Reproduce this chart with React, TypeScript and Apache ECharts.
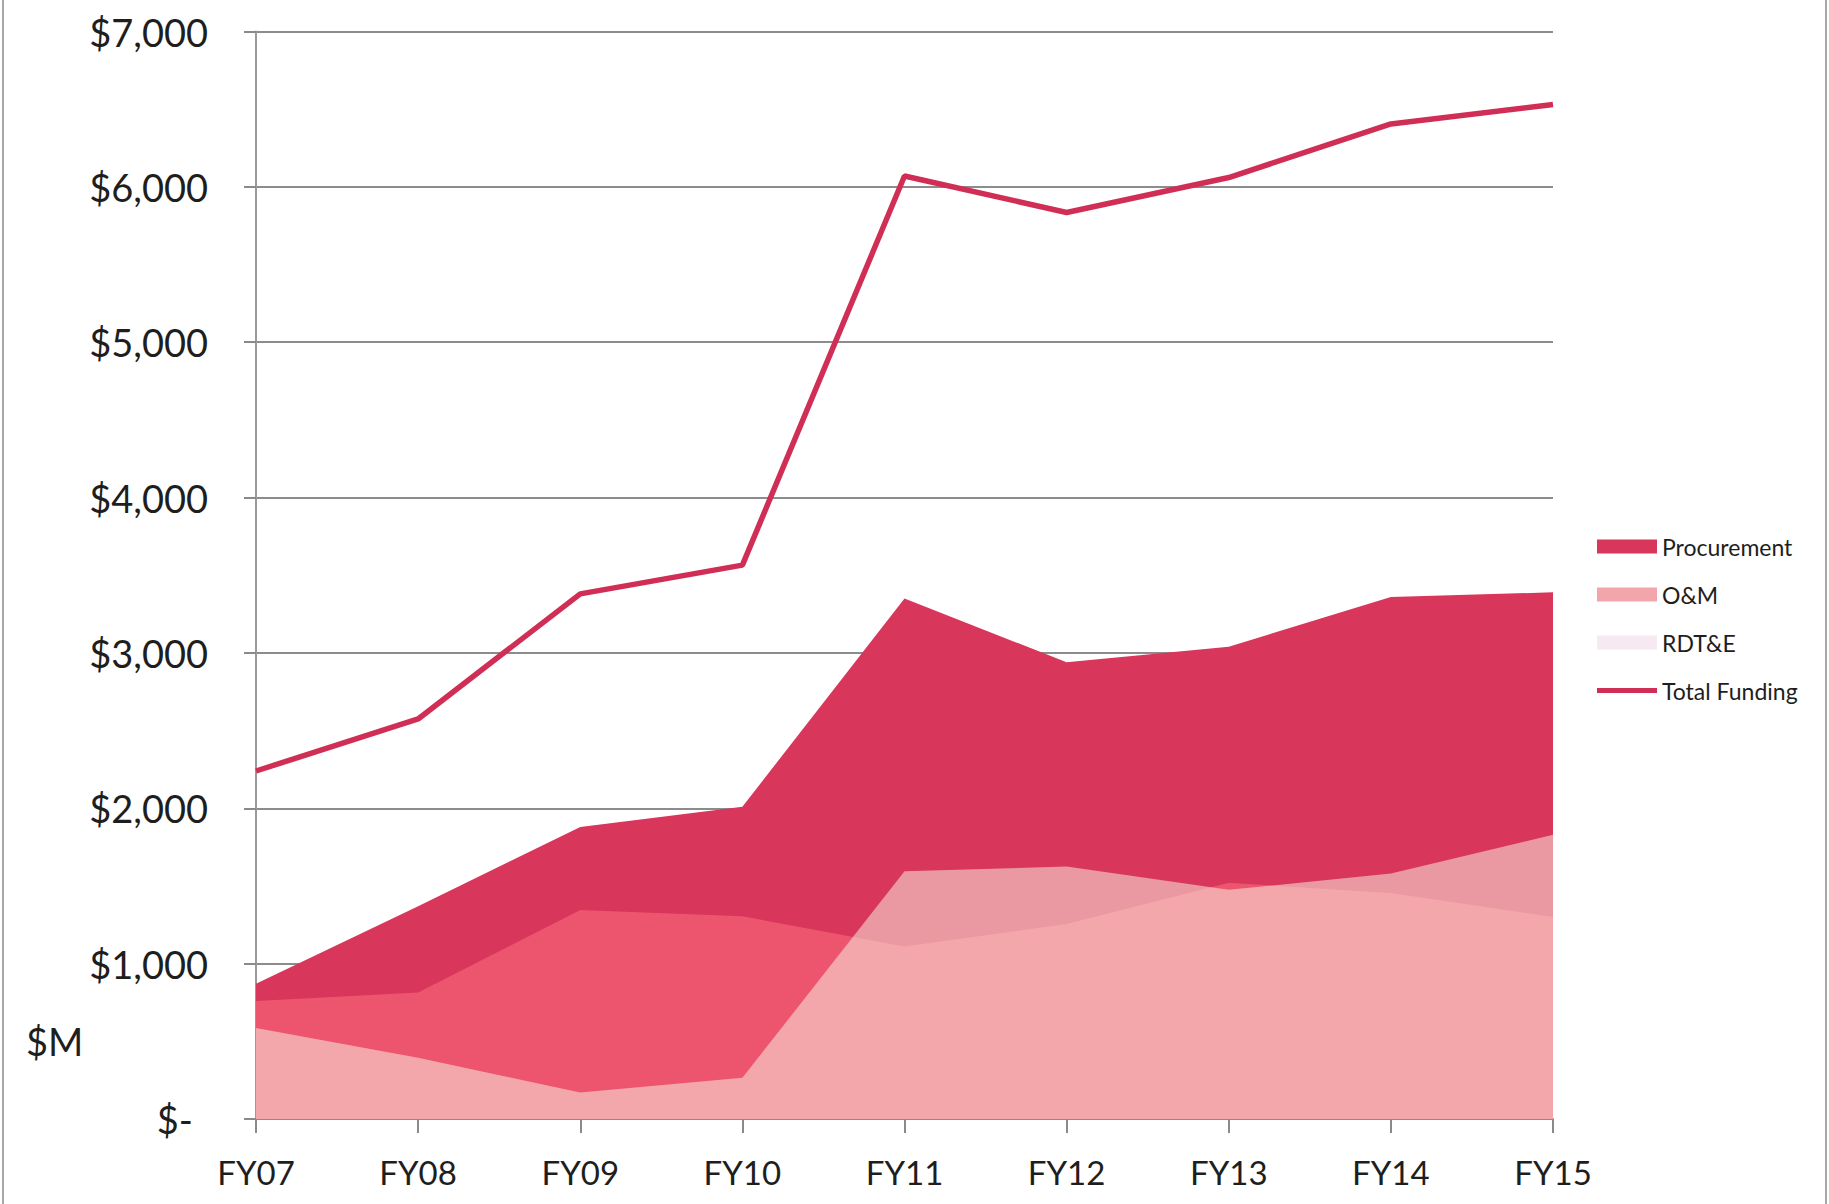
import React, { useEffect, useRef } from "react";
import * as echarts from "echarts";

const categories = ["FY07", "FY08", "FY09", "FY10", "FY11", "FY12", "FY13", "FY14", "FY15"];
const procurement = [870, 1370, 1880, 2010, 3350, 2940, 3040, 3360, 3390];
const oAndM = [585, 395, 170, 265, 1595, 1625, 1475, 1580, 1830];
const rdte = [760, 815, 1345, 1305, 1110, 1255, 1520, 1455, 1300];
const totalFunding = [2240, 2575, 3380, 3565, 6070, 5835, 6060, 6405, 6530];
const yTicks = { min: 0, max: 7000, interval: 1000 };

const FONT = "Lato";
const TEXT = "#1e1e1e";

export default function App() {
  const ref = useRef<HTMLDivElement>(null);
  useEffect(() => {
    if (!ref.current) return;
    const chart = echarts.init(ref.current, null, { renderer: "svg" });
    const option: any = {
      animation: false,
      backgroundColor: "#ffffff",
      grid: { left: 256, right: 276, top: 31.5, bottom: 85, containLabel: false },
      legend: {
        orient: "vertical",
        left: 1592,
        top: 530,
        itemWidth: 60,
        itemHeight: 14,
        itemGap: 25,
        textStyle: { fontFamily: FONT, fontSize: 23, color: TEXT },
        data: [
          { name: "Procurement", icon: "rect", itemStyle: { color: "#D8365A" } },
          { name: "O&M", icon: "rect", itemStyle: { color: "#F2A6AC" } },
          { name: "RDT&E", icon: "rect", itemStyle: { color: "#F6E9F1" } },
          { name: "Total Funding", icon: "path://M0,0H60V5H0Z", itemStyle: { color: "#D02E55" } },
        ],
      },
      xAxis: {
        type: "category",
        data: categories,
        boundaryGap: false,
        axisLine: { show: true, lineStyle: { color: "#8a8a8a", width: 2 } },
        axisTick: { show: true, length: 14, inside: false, lineStyle: { color: "#8a8a8a", width: 2 } },
        axisLabel: { fontFamily: FONT, fontSize: 33, color: TEXT, margin: 36 },
        splitLine: { show: false },
      },
      yAxis: {
        type: "value",
        min: yTicks.min,
        max: yTicks.max,
        interval: yTicks.interval,
        axisLine: { show: true, lineStyle: { color: "#9a9a9a", width: 2 } },
        axisTick: { show: true, length: 12, inside: false, lineStyle: { color: "#8a8a8a", width: 2 } },
        splitLine: { show: true, lineStyle: { color: "#8c8c8c", width: 2 } },
        axisLabel: {
          fontFamily: FONT,
          fontSize: 38,
          color: TEXT,
          margin: 48,
          formatter: (v: number) => (v === 0 ? "{z|$-}" : "$" + v.toLocaleString("en-US")),
          rich: { z: { fontFamily: FONT, fontSize: 38, color: TEXT, padding: [0, 15, 0, 0] } },
        },
      },
      graphic: [
        { type: "text", left: 26, top: 1022, style: { text: "$M", font: `38px ${FONT}`, fill: TEXT } },
        { type: "line", shape: { x1: 3, y1: 0, x2: 3, y2: 1204 }, style: { stroke: "#a8a8a8", lineWidth: 2 } },
        { type: "line", shape: { x1: 1826, y1: 0, x2: 1826, y2: 1204 }, style: { stroke: "#a8a8a8", lineWidth: 2 } },
      ],
      series: [
        {
          name: "Procurement",
          type: "line",
          data: procurement,
          symbol: "none",
          lineStyle: { width: 0, opacity: 0 },
          itemStyle: { color: "#D8365A" },
          areaStyle: { color: "rgb(216,54,90)", opacity: 1 },
        },
        {
          name: "RDT&E",
          type: "line",
          data: rdte,
          symbol: "none",
          lineStyle: { width: 0, opacity: 0 },
          itemStyle: { color: "#F6E9F1" },
          areaStyle: { color: "rgb(255,110,126)", opacity: 0.55 },
        },
        {
          name: "O&M",
          type: "line",
          data: oAndM,
          symbol: "none",
          lineStyle: { width: 0, opacity: 0 },
          itemStyle: { color: "#F2A6AC" },
          areaStyle: { color: "rgb(252,250,232)", opacity: 0.5 },
        },
        {
          name: "Total Funding",
          type: "line",
          data: totalFunding,
          symbol: "none",
          itemStyle: { color: "#D02E55" },
          lineStyle: { color: "#D02E55", width: 5.5 },
        },
      ],
    };
    chart.setOption(option);
    return () => chart.dispose();
  }, []);
  return (
    <div
      ref={ref}
      style={{ position: "fixed", left: 0, top: 0, width: 1829, height: 1204, background: "#fff" }}
    />
  );
}
